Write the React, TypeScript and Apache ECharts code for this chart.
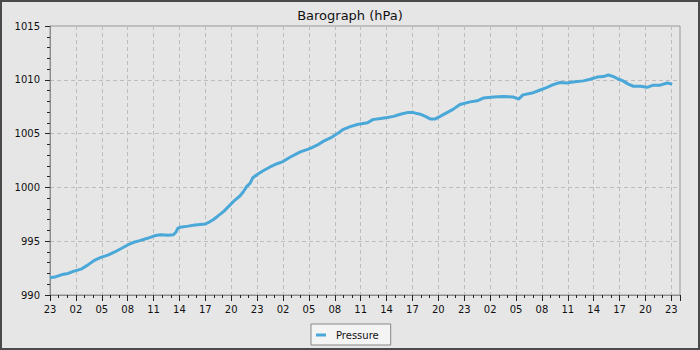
import React, { useEffect, useRef } from "react";
import * as echarts from "echarts";

// Hours since the first tick (23:00 on day 1)
const hours = [
  0, 0.7, 1.4, 2.1, 2.7, 3.6, 4.4, 5.2, 5.9, 6.7, 7.5, 8.2, 9.0, 9.7, 10.4, 11.3, 12.1, 12.8, 13.7,
  14.3, 14.6, 14.8, 15.1, 16.0, 16.8, 18.0, 18.5, 18.9, 19.4, 20.1, 20.9, 21.4, 22.0, 22.4, 22.8,
  23.2, 23.5, 24.1, 24.7, 25.5, 26.3, 27.0, 27.8, 29.0, 30.1, 31.0, 31.7, 32.5, 33.3, 34.0, 34.8,
  35.6, 36.8, 37.4, 38.3, 39.1, 39.8, 40.6, 41.4, 42.1, 42.9, 43.5, 44.1, 44.6, 45.2, 46.0, 46.7,
  47.5, 48.7, 49.5, 50.2, 51.4, 52.5, 53.7, 54.3, 54.8, 56.0, 56.8, 57.6, 58.3, 59.1, 59.9, 60.6,
  61.8, 62.6, 63.4, 64.1, 64.7, 65.3, 65.9, 66.4, 67.0, 67.6, 68.4, 69.2, 69.9, 70.7, 71.5, 72.1,
];
const pressure = [
  991.6, 991.7, 991.9, 992.0, 992.2, 992.4, 992.8, 993.25, 993.5, 993.7, 994.0, 994.3, 994.65, 994.9,
  995.05, 995.27, 995.5, 995.6, 995.55, 995.6, 995.85, 996.2, 996.3, 996.4, 996.5, 996.6, 996.8,
  997.0, 997.3, 997.75, 998.4, 998.8, 999.2, 999.6, 1000.1, 1000.4, 1000.9, 1001.25, 1001.55,
  1001.9, 1002.2, 1002.4, 1002.8, 1003.3, 1003.6, 1003.95, 1004.3, 1004.6, 1005.0, 1005.4, 1005.65,
  1005.85, 1006.0, 1006.3, 1006.4, 1006.5, 1006.6, 1006.8, 1006.95, 1006.95, 1006.8, 1006.6,
  1006.35, 1006.35, 1006.6, 1006.95, 1007.25, 1007.7, 1007.95, 1008.05, 1008.3, 1008.4, 1008.45,
  1008.4, 1008.2, 1008.6, 1008.8, 1009.05, 1009.3, 1009.55, 1009.75, 1009.7, 1009.8, 1009.9,
  1010.05, 1010.25, 1010.3, 1010.45, 1010.3, 1010.05, 1009.9, 1009.6, 1009.4, 1009.4, 1009.3,
  1009.5, 1009.5, 1009.7, 1009.6,
];
const startHour = 23;
const title = "Barograph (hPa)";
const seriesName = "Pressure";

export default function App() {
  const ref = useRef<HTMLDivElement>(null);
  useEffect(() => {
    document.body.style.margin = "0";
    const chart = echarts.init(ref.current!, null, { renderer: "svg" });
    const font = "DejaVu Sans";
    chart.setOption({
      animation: false,
      backgroundColor: "#e6e6e6",
      title: {
        text: title,
        left: "center",
        top: 4,
        textStyle: { fontFamily: font, fontSize: 13, fontWeight: "normal", color: "#111" },
      },
      graphic: [
        {
          type: "rect",
          shape: { x: 1, y: 1, width: 698, height: 348 },
          style: { fill: "none", stroke: "#4a4a4a", lineWidth: 2 },
          silent: true,
        },
      ],
      legend: {
        left: 311,
        top: 324,
        data: [{ name: seriesName, icon: "rect" }],
        itemWidth: 10,
        itemHeight: 3,
        padding: [6, 12, 5, 5],
        backgroundColor: "#f4f4f4",
        borderColor: "#888",
        borderWidth: 1,
        borderRadius: 0,
        textStyle: { fontFamily: font, fontSize: 10, color: "#111", padding: [0, 0, 0, 5] },
      },
      grid: {
        left: 50,
        right: 20,
        top: 26,
        bottom: 55,
        show: true,
        borderColor: "#999",
        borderWidth: 1,
        backgroundColor: "transparent",
      },
      xAxis: {
        type: "value",
        min: 0,
        max: 73,
        interval: 3,
        axisLine: { show: true, lineStyle: { color: "#8c8c8c" } },
        axisTick: { show: true, length: 6, lineStyle: { color: "#222" } },
        minorTick: { show: true, splitNumber: 3, length: 3, lineStyle: { color: "#222" } },
        splitLine: { show: true, lineStyle: { color: "#bdbdbd", type: [4, 3] } },
        axisLabel: {
          fontFamily: font,
          fontSize: 10,
          color: "#111",
          margin: 9,
          showMaxLabel: false,
          formatter: (v: number) => String((startHour + Math.round(v)) % 24).padStart(2, "0"),
        },
      },
      yAxis: {
        type: "value",
        min: 990,
        max: 1015,
        interval: 5,
        axisLine: { show: true, lineStyle: { color: "#8c8c8c" } },
        axisTick: { show: true, length: 5, lineStyle: { color: "#222" } },
        minorTick: { show: true, splitNumber: 5, length: 3, lineStyle: { color: "#222" } },
        splitLine: { show: true, lineStyle: { color: "#bdbdbd", type: [4, 3] } },
        axisLabel: {
          fontFamily: font,
          fontSize: 10,
          color: "#111",
          margin: 10,
          formatter: (v: number) => String(v),
        },
      },
      series: [
        {
          name: seriesName,
          type: "line",
          showSymbol: false,
          data: hours.map((h, i) => [h, pressure[i]]),
          itemStyle: { color: "#4aa8d8" },
          lineStyle: { color: "#4aa8d8", width: 3 },
        },
      ],
    });
    return () => chart.dispose();
  }, []);
  return <div ref={ref} style={{ width: 700, height: 350 }} />;
}
